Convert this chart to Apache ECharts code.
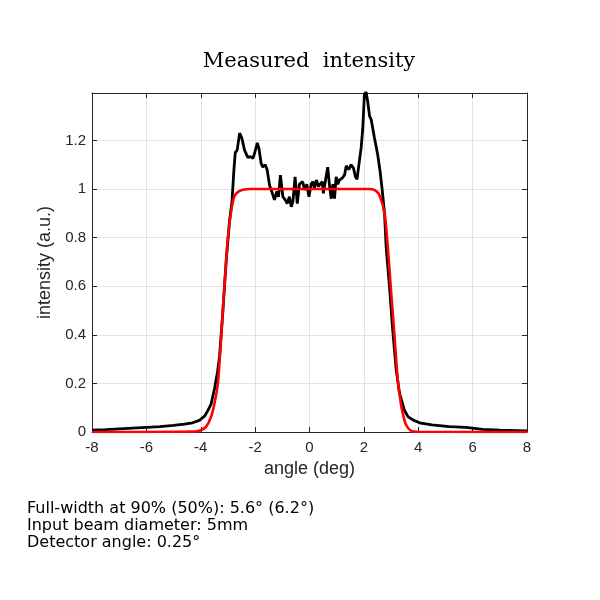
<!DOCTYPE html>
<html>
<head>
<meta charset="utf-8">
<script src="https://cdn.jsdelivr.net/npm/echarts@6/dist/echarts.min.js"></script>
<style>html,body{margin:0;padding:0;background:#fff;}#c{width:600px;height:600px;}</style>
</head>
<body>
<div id="c"></div>
<script>
var titleText = 'Measured  intensity';
var xName = 'angle (deg)';
var yName = 'intensity (a.u.)';
var noteLines = ['Full-width at 90% (50%): 5.6° (6.2°)', 'Input beam diameter: 5mm', 'Detector angle: 0.25°'];

var measuredX = [-8, -7.5, -7, -6.5, -6, -5.5, -5, -4.6, -4.3, -4.05, -3.86, -3.74, -3.62, -3.49, -3.38, -3.31, -3.19, -3.06, -2.94, -2.85, -2.78, -2.73, -2.66, -2.57, -2.49, -2.39, -2.27, -2.17, -2.08, -2.02, -1.92, -1.86, -1.78, -1.72, -1.63, -1.56, -1.47, -1.39, -1.29, -1.2, -1.14, -1.07, -0.98, -0.89, -0.82, -0.74, -0.67, -0.61, -0.53, -0.45, -0.37, -0.25, -0.18, -0.10, -0.02, 0.06, 0.12, 0.18, 0.25, 0.33, 0.39, 0.47, 0.51, 0.59, 0.67, 0.74, 0.80, 0.86, 0.92, 0.98, 1.04, 1.10, 1.2, 1.29, 1.35, 1.45, 1.53, 1.62, 1.69, 1.75, 1.80, 1.90, 1.96, 2.02, 2.08, 2.14, 2.21, 2.27, 2.39, 2.51, 2.60, 2.67, 2.76, 2.82, 2.94, 3.06, 3.19, 3.31, 3.49, 3.62, 3.80, 4.05, 4.5, 5.15, 5.76, 6.37, 7.0, 8.0];
var measuredY = [0.008, 0.010, 0.013, 0.016, 0.019, 0.022, 0.027, 0.032, 0.038, 0.048, 0.065, 0.088, 0.115, 0.18, 0.25, 0.31, 0.49, 0.71, 0.87, 0.95, 1.08, 1.15, 1.16, 1.23, 1.21, 1.16, 1.13, 1.133, 1.126, 1.147, 1.19, 1.167, 1.106, 1.09, 1.10, 1.08, 1.016, 0.99, 0.955, 0.99, 0.968, 1.057, 0.968, 0.955, 0.94, 0.968, 0.927, 0.948, 1.05, 0.94, 1.02, 1.03, 0.996, 1.02, 0.968, 1.02, 1.03, 1.003, 1.037, 1.01, 1.02, 1.03, 0.982, 1.037, 1.09, 1.01, 0.96, 1.02, 0.96, 1.05, 1.02, 1.037, 1.044, 1.058, 1.095, 1.08, 1.10, 1.085, 1.05, 1.04, 1.086, 1.17, 1.25, 1.39, 1.40, 1.36, 1.30, 1.285, 1.21, 1.14, 1.07, 1.0, 0.90, 0.76, 0.60, 0.42, 0.255, 0.16, 0.09, 0.063, 0.05, 0.038, 0.029, 0.022, 0.019, 0.011, 0.008, 0.005];

var fitX = [-8, -4.2, -4.0, -3.8, -3.62, -3.5, -3.37, -3.25, -3.13, -3.0, -2.88, -2.76, -2.6, -2.4, -2.2, 0, 2.2, 2.4, 2.57, 2.76, 2.88, 3.0, 3.13, 3.25, 3.37, 3.43, 3.55, 3.74, 4.0, 8];
var fitY = [0, 0.002, 0.007, 0.022, 0.063, 0.115, 0.20, 0.39, 0.60, 0.80, 0.91, 0.97, 0.99, 0.998, 1.0, 1.0, 1.0, 0.995, 0.975, 0.90, 0.76, 0.58, 0.39, 0.21, 0.11, 0.077, 0.03, 0.005, 0.001, 0];

var xTicks = {min: -8, max: 8, step: 2};
var yTicks = {min: 0, max: 1.395, step: 0.2};

function pairs(xs, ys) { return xs.map(function (x, i) { return [x, ys[i]]; }); }

var axisColor = '#262626';
var gridColor = '#e3e3e3';
var fontSans = 'Liberation Sans, Arial, sans-serif';

var chart = echarts.init(document.getElementById('c'), null, {renderer: 'canvas'});
function mkX(pos, show) {
  return {
    type: 'value', position: pos, min: xTicks.min, max: xTicks.max, interval: xTicks.step,
    name: show ? xName : '', nameLocation: 'middle', nameGap: 27,
    nameTextStyle: {color: axisColor, fontSize: 18, fontFamily: fontSans},
    axisLine: {show: true, onZero: false, lineStyle: {color: axisColor, width: 1}},
    axisTick: {show: true, inside: true, length: 5, lineStyle: {color: axisColor}},
    axisLabel: {show: show, color: axisColor, fontSize: 15, fontFamily: fontSans, margin: 8},
    splitLine: {show: show, lineStyle: {color: gridColor, width: 1}}
  };
}
function mkY(pos, show) {
  return {
    type: 'value', position: pos, min: yTicks.min, max: yTicks.max, interval: yTicks.step,
    name: show ? yName : '', nameLocation: 'middle', nameGap: 31, nameRotate: 90,
    nameTextStyle: {color: axisColor, fontSize: 18, fontFamily: fontSans},
    axisLine: {show: true, onZero: false, lineStyle: {color: axisColor, width: 1}},
    axisTick: {show: true, inside: true, length: 5, lineStyle: {color: axisColor}},
    axisLabel: {show: show, showMaxLabel: false, color: axisColor, fontSize: 15, fontFamily: fontSans, margin: 6},
    splitLine: {show: show, lineStyle: {color: gridColor, width: 1}}
  };
}
chart.setOption({
  animation: false,
  backgroundColor: '#ffffff',
  title: {
    text: titleText, left: 304, top: 46, textAlign: 'center',
    textStyle: {fontFamily: 'DejaVu Serif, serif', fontWeight: 'normal', fontSize: 21, color: '#000'}
  },
  grid: {left: 92, right: 73, top: 93, bottom: 168, containLabel: false},
  xAxis: [mkX('bottom', true), mkX('top', false)],
  yAxis: [mkY('left', true), mkY('right', false)],
  series: [
    {type: 'line', xAxisIndex: 0, yAxisIndex: 0, data: pairs(measuredX, measuredY), showSymbol: false, symbol: 'none',
     lineStyle: {color: '#000000', width: 2.8}, z: 2},
    {type: 'line', xAxisIndex: 0, yAxisIndex: 0, data: pairs(fitX, fitY), showSymbol: false, symbol: 'none', smooth: 0.3,
     lineStyle: {color: '#ff0000', width: 2.6}, z: 3}
  ],
  graphic: noteLines.map(function (t, i) {
    return {type: 'text', left: 27, top: 501 + i * 17,
      style: {text: t, font: '16px "DejaVu Sans", Verdana, sans-serif', fill: '#000'}};
  })
});
</script>
</body>
</html>
